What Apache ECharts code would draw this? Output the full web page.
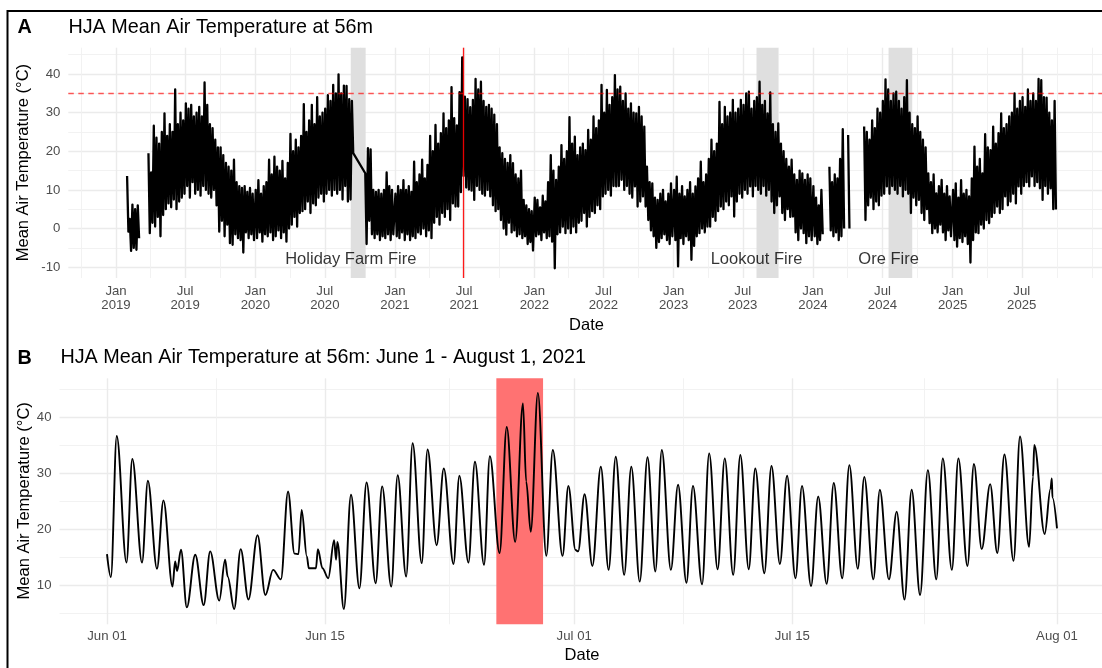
<!DOCTYPE html>
<html><head><meta charset="utf-8">
<script src="https://cdn.jsdelivr.net/npm/echarts@6/dist/echarts.min.js"></script>
<style>html,body{margin:0;padding:0;background:#fff}#c{width:1102px;height:668px}</style>
</head><body><div id="c"></div>
<script>
// ---------------- DATA ----------------
// Panel A: weekly highs / lows. Week k of a year starts Jan 1 + 7k days.
// '-' = no data (line breaks), SKIP = week not recorded but line is bridged.
const SKIP = 'skip';
const aYears = [2019, 2020, 2021, 2022, 2023, 2024, 2025];
const hi2019 = ['-','-','-','-',13.6,2.5,6.2,5.0,6.0,'-','-','-',19.5,14.5,26.6,23.5,22,25,29.8,24,27,25,36,27,30,28,32.4,31,32,29,30,31.5,29,37.8,32,27,26,23,21,21,19,17,16,15,17.8,12,11,10.5,11,9.5,10.5,9];
const lo2019 = ['-','-','-','-',-0.8,-5.8,-5.0,-5.5,-2.5,'-','-','-',-1.2,1.5,0.5,3,-2,3.5,5,6.5,5.5,7.5,5,7,8,9,11,8,12,9,10,8.5,11,10,9,8,10,6,-0.8,2,-2,1,-3.8,-4.2,-1.5,-2.5,-3,-6.2,-1,-2.5,-1.5,-3];
const hi2020 = [10,12.5,9,11,12,17.8,14,18.6,16,15,17.5,13,17,24.5,20,23,21,24,32.2,25,28,32,27,34,29,30,31,34.5,33,37.2,35,39.9,35,37,36.9,33.5,33,SKIP,SKIP,SKIP,SKIP,14.3,20.8,20.5,10,9.5,10,9,10,14.5,11,10];
const lo2020 = [-2.5,-1,-3.4,-1.5,-2,-1,-3,-2,-0.5,-2.5,-1,-3.4,0,1,3,0.5,4,4.5,5,7,4,6.5,6,8,9,7,9,10,8.5,10,9,10,7.5,11,7,7.5,19.5,SKIP,SKIP,SKIP,SKIP,-4,2,-1.5,-2.5,-1.5,-3,-2,-2.5,-1.5,-3,-1.5];
const hi2021 = [9,11,10,12.5,10,11,9.5,17.3,12,14,17.8,13,16.5,24,20,26.8,22,24.7,29.8,26,28,36.6,28.6,26.7,35.3,44.3,34.1,33.5,31.4,33.3,38.7,36,38,33,31.5,32,31,29.5,27,21,19.5,18,17,19,16.9,14,13,15,7.4,6,5,4.5];
const lo2021 = [-2,-2.5,-1,-3,-1.5,-3,-2,-2.5,-1,-1.5,0,-2,-0.5,-2.5,1.5,3,1,4,3,5,2.2,6.5,5.7,5.7,9.4,13.6,10.6,10.1,9.8,7.4,11,10,9,8.5,10,8.3,6,4.5,5,2.2,0,-1.6,1.5,-1,-0.5,-2,-1.5,-2.5,-2,-4,-3.5,-5.7];
const hi2022 = [8,7.4,5.5,8.5,7,12,19,15,12.6,16,21.6,18,20,28.8,22,23.8,19,21,22,20.3,25.5,23,29,26,28,37.2,30,35.9,32,34,39.7,36,36.7,33,35,31,32.4,30,29.8,31.5,29,26.4,16,12,11.7,8,7.4,9,10,7,9,11.7];
const lo2022 = [-2,-1.5,-3,-1,-2.5,-2,-3.4,-10.3,-1.5,-1,0.5,-1.2,0,-1.2,0.5,-1,1.5,2,4,0.5,3,4.5,4,6,5,8.3,9,10,8.5,11,10.9,11,12.6,10,11,9,8,10.9,5.7,7,8.3,5.7,2.2,-0.5,-2,-5,-3.5,-2.5,-1.5,-3,-4,-2];
const hi2023 = [10,13.4,9,11,8.3,10,12,9,10.9,13,17.3,12,14,18,23,20,22,32.8,27,31.5,29,30,33.3,30,31,33.3,32,35,35.4,31,33,34,38,32,33,29.8,35.2,27,25,27.2,22,20,18,16,17.8,14,12.6,15,14.3,12.6,14,13];
const lo2023 = [-3,-9.8,-2.5,-4,-2,-3,-8.1,-4.5,-2,-1.2,0,-1,0.5,0.5,3,2,4.5,5.7,5,7,6,8.3,3.1,7,9,8,10,9,10.9,8.3,11,10,9,11,8.5,10,7,4,6,8.3,4,2.2,5,3,3.1,-1,-3,0,-1.2,-3.8,-2,-3];
const hi2024 = [11,8,6,10,'-','-',16,12,14,13,18,25.7,'-',24.2,'-','-','-','-','-',26.4,25,23,28,26,31,30,33,38.6,36,33,35,35.4,33,31,34,38.4,30,27,26,29,25,23,21,14.3,12,14,9.1,11,12.6,9,11,8.3];
const lo2024 = [-2,-4,-3,-1.5,'-','-',-0.5,-2,-1,-3,-2,0,'-',0,'-','-','-','-','-',2.2,6,8,5,7,6,8.5,9,10.9,9,11,10,9,11,8.3,10,9,4,8,6,7.4,4,2.2,5,1.4,-1.2,0,-1,1,-1,-3,-0.5,-2];
const hi2025 = [10,11.7,8,12.5,9,10,8.3,13,21.2,16,18,14.3,24.4,21,20.3,26.4,22,24.7,29.8,26,27,29,30,35,31,33,34,31.5,36,33,35,33,38.7,38.4,34,33.9,30,28,33];
const lo2025 = [-3,-4.7,-2.5,-3.5,-2,-4,-8.8,-3,-1,-1.2,1,0,2.2,1.4,3,4,5.7,4,5,8.3,6,7,9,6.5,10.9,9,11,12,10.9,13.5,11,12,10.4,7.4,11,9,10.4,5,4.9];

const fireNames  = ['Holiday Farm Fire', 'Lookout Fire', 'Ore Fire'];
const fireStarts = ['2020-09-07', '2023-08-06', '2024-07-17'];
const fireEnds   = ['2020-10-16', '2023-10-02', '2024-09-17'];
const fireLabelY = -8;
const heatThreshold = 35;
const heatDomeDate = '2021-06-28';

const aXMajor = ['2019-01-01','2019-07-01','2020-01-01','2020-07-01','2021-01-01','2021-07-01','2022-01-01','2022-07-01','2023-01-01','2023-07-01','2024-01-01','2024-07-01','2025-01-01','2025-07-01'];
const aXMinor = ['2018-10-01','2019-04-01','2019-10-01','2020-04-01','2020-10-01','2021-04-01','2021-10-01','2022-04-01','2022-10-01','2023-04-01','2023-10-01','2024-04-01','2024-10-01','2025-04-01','2025-10-01','2026-01-01'];
const aYMajor = [-10, 0, 10, 20, 30, 40];
const aYMinor = [-5, 5, 15, 25, 35, 45];

// Panel B: [hours since 2021-06-01 00:00, temperature °C]
const bStart = '2021-06-01';
const bSeries = [[0,15.5],[6,11.4],[15,36.6],[30,14.0],[39,32.5],[54,14.0],[63,28.6],[77,12.9],[87,25.1],[101,9.7],[105,14.2],[108,12.5],[114,16.3],[123,6.0],[136,15.4],[149,6.4],[159,16.0],[173,7.2],[182,14.5],[186,11.5],[196,5.7],[206,16.4],[218,7.4],[232,18.9],[244,8.2],[256,12.7],[268,11.0],[279,26.7],[289,15.6],[295,15.5],[300,23.4],[308,15.1],[311,13.0],[322,13.0],[325,16.4],[332,13.0],[341,11.2],[350,18.0],[353,14.5],[355,17.7],[365,5.7],[376,26.1],[389,9.4],[400,28.3],[414,10.3],[424,27.6],[438,9.7],[448,29.6],[461,11.5],[471,35.3],[485,13.9],[494,34.2],[508,17.1],[519,30.8],[534,13.75],[543,29.5],[557,14.0],[567,32.0],[581,13.6],[590,33.0],[605,15.7],[616,38.2],[629,17.7],[641,42.4],[646,28.5],[653,19.5],[664,44.3],[677,15.2],[687,34.1],[702,15.2],[711,27.7],[722,16.25],[726,16.0],[736,26.2],[748,13.4],[761,31.1],[773,12.7],[784,32.9],[797,11.8],[808,31.1],[821,10.6],[833,32.8],[845,12.4],[855,34.1],[869,12.7],[880,27.9],[893,10.4],[903,27.7],[917,10.1],[928,33.5],[941,12.8],[952,32.6],[965,11.8],[976,33.2],[989,12.8],[999,30.8],[1013,12.1],[1024,31.25],[1037,13.75],[1048,29.5],[1061,11.2],[1071,27.7],[1085,9.8],[1096,25.8],[1109,10.2],[1120,28.2],[1133,11.2],[1144,31.4],[1157,12.9],[1167,29.3],[1181,11.0],[1191,27.0],[1205,11.0],[1217,23.1],[1229,7.4],[1240,27.0],[1253,8.2],[1265,30.5],[1278,11.0],[1288,32.6],[1302,12.7],[1312,32.6],[1326,13.4],[1336,31.6],[1348,16.4],[1361,28.0],[1372,15.7],[1383,33.3],[1397,14.3],[1407,36.5],[1421,16.8],[1427,29.3],[1429,35.0],[1445,19.1],[1454,27.2],[1456,29.0],[1457,25.6],[1464,20.1]];
const bHighlightStart = '2021-06-26';
const bHighlightEnd = '2021-06-29';
const bXMajor = ['2021-06-01','2021-06-15','2021-07-01','2021-07-15','2021-08-01'];
const bXMinor = ['2021-06-08','2021-06-23','2021-07-08','2021-07-23T12:00'];
const bYMajor = [10, 20, 30, 40];
const bYMinor = [5, 15, 25, 35, 45];

// ---------------- BUILD ----------------
const DAY = 864e5;
const FONT = '"Liberation Sans", Arial, Helvetica, sans-serif';
const ts = s => Date.parse(s.length === 10 ? s + 'T00:00:00Z' : s + ':00Z');
const MON = ['Jan','Feb','Mar','Apr','May','Jun','Jul','Aug','Sep','Oct','Nov','Dec'];

const aHi = [hi2019, hi2020, hi2021, hi2022, hi2023, hi2024, hi2025];
const aLo = [lo2019, lo2020, lo2021, lo2022, lo2023, lo2024, lo2025];
const aLine = [];
aYears.forEach((y, i) => {
  const t0 = Date.UTC(y, 0, 1);
  aHi[i].forEach((h, k) => {
    if (h === SKIP) return;
    const t = t0 + k * 7 * DAY;
    aLine.push([t + DAY, h]);
    aLine.push([t + 4.5 * DAY, aLo[i][k]]);
  });
});
const b0 = ts(bStart);
const bLine = bSeries.map(p => [b0 + p[0] * 3600e3, p[1]]);

const AXMIN = ts('2018-08-29'), AXMAX = ts('2026-02-04');
const BXMIN = ts('2021-06-01') - 3.05 * DAY, BXMAX = ts('2021-08-01') + 3.05 * DAY;

const MAJ = {color: '#EBEBEB', width: 1.4};
const MIN = {color: '#F1F1F1', width: 0.9};
const labelBase = {color: '#4D4D4D', fontSize: 13.2, fontFamily: FONT};

function xAx(grid, min, max, ticks, fmt, margin, major) {
  const vals = ticks.map(ts);
  return {
    type: 'value', gridIndex: grid, min, max, scale: true, position: 'bottom',
    axisLine: {show: false},
    axisTick: {show: false, customValues: vals},
    axisLabel: major ? Object.assign({customValues: vals, formatter: fmt, margin, lineHeight: 14, hideOverlap: false}, labelBase) : {show: false},
    splitLine: {show: true, lineStyle: major ? MAJ : MIN}
  };
}
function yAx(grid, min, max, ticks, major) {
  return {
    type: 'value', gridIndex: grid, min, max, position: 'left',
    axisLine: {show: false},
    axisTick: {show: false, customValues: ticks},
    axisLabel: major ? Object.assign({customValues: ticks, margin: 8}, labelBase) : {show: false},
    splitLine: {show: true, lineStyle: major ? MAJ : MIN}
  };
}
const fmtA = v => { const d = new Date(v); return MON[d.getUTCMonth()] + '\n' + d.getUTCFullYear(); };
const fmtB = v => { const d = new Date(v); return MON[d.getUTCMonth()] + ' ' + String(d.getUTCDate()).padStart(2, '0'); };

const option = {
  animation: false,
  backgroundColor: '#fff',
  grid: [
    {left: 68.3, top: 47.7, width: 1036.7, height: 230.3, containLabel: false, outerBoundsMode: 'none'},
    {left: 59.5, top: 378.3, width: 1045, height: 246, containLabel: false, outerBoundsMode: 'none'}
  ],
  xAxis: [
    xAx(0, AXMIN, AXMAX, aXMinor, null, 0, false),
    xAx(0, AXMIN, AXMAX, aXMajor, fmtA, 6.5, true),
    xAx(1, BXMIN, BXMAX, bXMinor, null, 0, false),
    xAx(1, BXMIN, BXMAX, bXMajor, fmtB, 5.5, true)
  ],
  yAxis: [
    yAx(0, -12.8, 46.8, aYMinor, false),
    yAx(0, -12.8, 46.8, aYMajor, true),
    yAx(1, 2.98, 46.9, bYMinor, false),
    yAx(1, 2.98, 46.9, bYMajor, true)
  ],
  series: [
    {
      type: 'line', xAxisIndex: 1, yAxisIndex: 1, data: aLine, z: 3,
      symbol: 'none', showSymbol: false, connectNulls: false, silent: true,
      lineStyle: {color: '#000', width: 2.3, join: 'round'},
      markArea: {
        silent: true, z: 1,
        itemStyle: {color: '#DFDFDF', opacity: 1},
        data: fireStarts.map((s, i) => [{xAxis: ts(s)}, {xAxis: ts(fireEnds[i])}])
      }
    },
    {
      type: 'line', xAxisIndex: 1, yAxisIndex: 1, data: [], z: 5, silent: true,
      markLine: {
        silent: true, symbol: ['none', 'none'], z: 5,
        label: {show: false},
        lineStyle: {color: '#FF0000', width: 1.3, type: 'solid', opacity: 1},
        data: [
          {yAxis: heatThreshold, lineStyle: {color: 'rgba(255,0,0,0.65)', width: 1.3, type: [5.5, 4.5]}},
          {xAxis: ts(heatDomeDate), lineStyle: {color: '#FF0000', width: 1.3, type: 'solid', opacity: 0.9}}
        ]
      }
    },
    {
      type: 'scatter', xAxisIndex: 1, yAxisIndex: 1, z: 6, silent: true,
      symbolSize: 1, itemStyle: {color: 'transparent'},
      data: fireStarts.map(s => [ts(s), fireLabelY]),
      label: {show: true, position: 'inside', formatter: p => fireNames[p.dataIndex], color: '#000', fontSize: 16.5, fontFamily: FONT}
    },
    {
      type: 'line', xAxisIndex: 3, yAxisIndex: 3, data: bLine, z: 3,
      symbol: 'none', showSymbol: false, silent: true,
      smooth: 0.35, smoothMonotone: 'x',
      lineStyle: {color: '#000', width: 1.9, join: 'round'},
      markArea: {
        silent: true, z: 1,
        itemStyle: {color: '#FF7272', opacity: 1},
        data: [[{xAxis: ts(bHighlightStart)}, {xAxis: ts(bHighlightEnd)}]]
      }
    }
  ],
  graphic: [
    {type: 'rect', silent: true, z: 100, shape: {x: 7.5, y: 11, width: 1200, height: 800}, style: {fill: 'none', stroke: '#000', lineWidth: 2}},
    {type: 'text', x: 17.5, y: 27.5, style: {text: 'A', fontSize: 19.8, fontWeight: 'bold', fontFamily: FONT, fill: '#000', verticalAlign: 'middle'}},
    {type: 'text', x: 68.4, y: 27.5, style: {text: 'HJA Mean Air Temperature at 56m', fontSize: 19.8, fontFamily: FONT, fill: '#000', verticalAlign: 'middle'}},
    {type: 'text', x: 23, y: 162.6, rotation: Math.PI / 2, style: {text: 'Mean Air Temperature (°C)', fontSize: 16.5, fontFamily: FONT, fill: '#000', align: 'center', verticalAlign: 'middle'}},
    {type: 'text', x: 586.5, y: 325, style: {text: 'Date', fontSize: 16.5, fontFamily: FONT, fill: '#000', align: 'center', verticalAlign: 'middle'}},
    {type: 'text', x: 17.5, y: 358.3, style: {text: 'B', fontSize: 19.8, fontWeight: 'bold', fontFamily: FONT, fill: '#000', verticalAlign: 'middle'}},
    {type: 'text', x: 60.4, y: 358, style: {text: 'HJA Mean Air Temperature at 56m: June 1 - August 1, 2021', fontSize: 19.8, fontFamily: FONT, fill: '#000', verticalAlign: 'middle'}},
    {type: 'text', x: 24.5, y: 500.8, rotation: Math.PI / 2, style: {text: 'Mean Air Temperature (°C)', fontSize: 16.5, fontFamily: FONT, fill: '#000', align: 'center', verticalAlign: 'middle'}},
    {type: 'text', x: 582, y: 655, style: {text: 'Date', fontSize: 16.5, fontFamily: FONT, fill: '#000', align: 'center', verticalAlign: 'middle'}}
  ]
};
const chart = echarts.init(document.getElementById('c'), null, {renderer: 'canvas'});
chart.setOption(option);
</script></body></html>
